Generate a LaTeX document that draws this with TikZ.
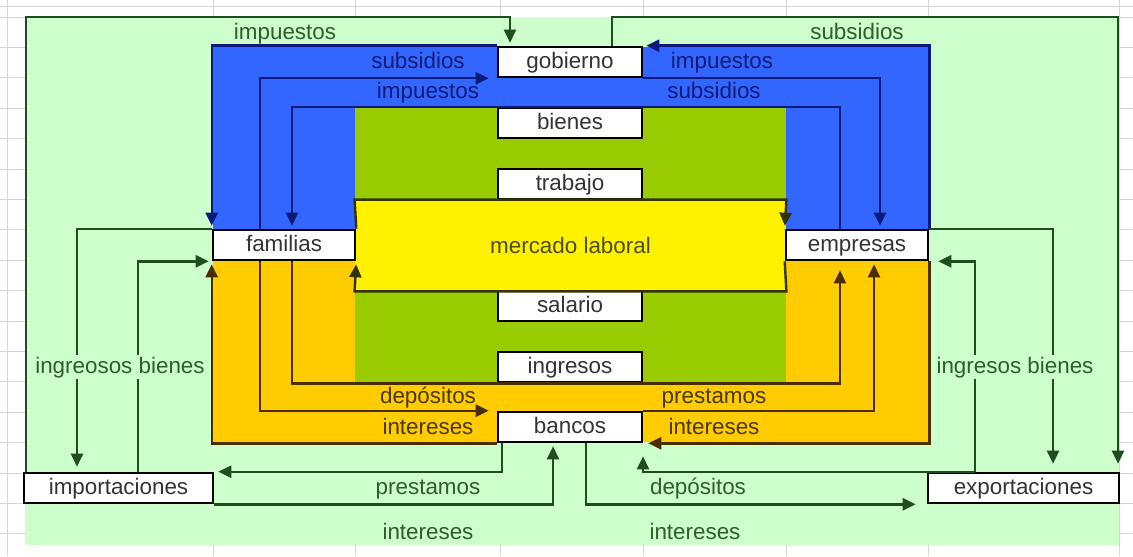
\documentclass[tikz,border=0pt]{standalone}
\usepackage{fontspec}
\setmainfont{Liberation Sans}
\usetikzlibrary{arrows.meta}
\definecolor{lgreen}{HTML}{CCFFCC}
\definecolor{xblue}{HTML}{3366FF}
\definecolor{xlime}{HTML}{99CC00}
\definecolor{xgold}{HTML}{FFCC00}
\definecolor{lineb}{HTML}{0C1A7A}
\definecolor{lineg}{HTML}{1F4D1F}
\definecolor{lineo}{HTML}{4A2E00}
\definecolor{liney}{HTML}{333300}
\definecolor{gtxt}{HTML}{2E5E2E}
\definecolor{btxt}{HTML}{101C78}
\definecolor{otxt}{HTML}{4A3800}
\definecolor{mtxt}{HTML}{4D4D00}
\definecolor{gridc}{HTML}{D6D6D6}
\tikzset{
  box/.style={draw=black,line width=1.3pt,fill=white,text=black!80,
              minimum width=72pt,minimum height=15pt,inner sep=0pt,
              text height=1.5ex,text depth=.25ex},
  lbl/.style={inner sep=1.5pt,text height=1.5ex,text depth=.25ex},
  glbl/.style={lbl,text=gtxt},
  blbl/.style={lbl,text=btxt},
  olbl/.style={lbl,text=otxt},
  arr/.style={line width=1.2pt,-{Triangle[length=6.5pt,width=6pt]},
              shorten >=1.5pt},
  barr/.style={arr,draw=lineb},
  garr/.style={arr,draw=lineg},
  oarr/.style={arr,draw=lineo},
  yarr/.style={arr,draw=liney},
}

\begin{document}
\begin{tikzpicture}[x=0.5pt,y=-0.5pt,
                    every node/.style={font=\fontsize{11.2}{13}\selectfont}]
\useasboundingbox (0,0) rectangle (1133,556);

%% ---------- sheet and coloured areas ----------
\fill[white] (0,0) rectangle (1133,556);
\foreach \gx in {7,213,355,500,643,786,928,1119}
  \draw[gridc] (\gx,0) -- (\gx,556);
\draw[gridc] (0,6) -- (1133,6);
\foreach \k in {0,...,18}
  \draw[gridc] (0,17+30.4*\k) -- (1133,17+30.4*\k);

\fill[lgreen] (25,17) rectangle (1119,545);
\fill[xblue] (213,47) rectangle (928,230);
\fill[xgold] (213,260) rectangle (928,442);
\fill[xlime] (355,108) rectangle (786,382);

%% ---------- boxes ----------
\node[fill=yellow,minimum width=215.5pt,minimum height=45.5pt,
      inner sep=0pt,text=mtxt] (mer) at (570.5,245.5) {mercado laboral};

\node[box] (gob) at (570,62)  {gobierno};
\node[box] (bie) at (570,123) {bienes};
\node[box] (tra) at (570,184) {trabajo};
\node[box,minimum width=71pt] (fam) at (284,245) {familias};
\node[box,minimum width=71pt] (emp) at (857,245) {empresas};
\node[box] (sal) at (570,306) {salario};
\node[box] (ing) at (570,367) {ingresos};
\node[box] (ban) at (570,427) {bancos};
\node[box,minimum width=94.5pt] (imp) at (118.5,488) {importaciones};
\node[box,minimum width=95.5pt] (exp) at (1023.5,488) {exportaciones};

%% ---------- gobierno (blue) ----------
\draw[barr] (gob.north west) -| (fam.north west);
\draw[barr,shorten >=4pt] (260,0 |- fam.north) |- (gob.south west);
\draw[barr] (emp.north east) |- (gob.north east);
\draw[barr] (gob.south east) -| (880,0 |- emp.north);
\draw[barr] (840,0 |- emp.north) |- (292,0 |- bie.north)
            -- (292,0 |- fam.north);

%% ---------- mercado laboral ----------
\draw[yarr] (fam.north east) -- (mer.north west) -- (mer.north east)
            -- (emp.north west);
\draw[yarr] (emp.south west) -- (mer.south east) -- (mer.south west)
            -- (fam.south east);

%% ---------- bancos (orange) ----------
\draw[oarr,shorten >=4.5pt] (292,0 |- fam.south) |- (840,0 |- ing.south)
            -- (840,0 |- emp.south);
\draw[oarr,shorten >=4pt] (260,0 |- fam.south) |- (ban.north west);
\draw[oarr] (ban.north east) -| (874,0 |- emp.south);
\draw[oarr] (ban.south west) -| (fam.south west);
\draw[oarr,shorten >=2.5pt] (emp.south east) |- (ban.south east);

%% ---------- outside flows (light green) ----------
\draw[garr] (26,0 |- imp.north) |- (510,17) -- (510,0 |- gob.north);
\draw[garr,shorten >=4pt] (612,0 |- gob.north) |- (1118,17)
            -- (1118,0 |- exp.north);
\draw[garr,shorten >=2.5pt] (fam.north west) -| (77,0 |- imp.north);
\draw[garr] (138,0 |- imp.north) |- (fam.south west);
\draw[garr,shorten >=4pt] (emp.north east) -| (1053,0 |- exp.north);
\draw[garr,shorten >=4.5pt] (975,0 |- exp.north) |- (emp.south east);
\draw[garr,shorten >=2pt] (502,0 |- ban.south) |- (imp.north east);
\draw[garr] (imp.south east) -| (553,0 |- ban.south);
\draw[garr,shorten >=5.5pt] (586,0 |- ban.south) |- (exp.south west);
\draw[garr,shorten >=6.5pt] (975,0 |- exp.north) -| (643,0 |- ban.south);

%% ---------- labels ----------
\node[glbl] (limp1) at (285,33)  {impuestos};
\node[glbl] (lsub1) at (857,33)  {subsidios};
\node[blbl] (lsub2) at (418,62)  {subsidios};
\node[blbl] (limp2) at (428,92)  {impuestos};
\node[blbl] (limp3) at (722,62)  {impuestos};
\node[blbl] (lsub3) at (714,92)  {subsidios};
\node[olbl] (ldep1) at (428,397) {depósitos};
\node[olbl] (lpre1) at (714,397) {prestamos};
\node[olbl] (lint1) at (428,428) {intereses};
\node[olbl] (lint2) at (714,428) {intereses};
\node[glbl] (lpre2) at (428,488) {prestamos};
\node[glbl] (ldep2) at (698,488) {depósitos};
\node[glbl] (lint3) at (428,533) {intereses};
\node[glbl] (lint4) at (695,533) {intereses};
\node[glbl,fill=lgreen] (lfam) at (120,367)  {ingreosos bienes};
\node[glbl,fill=lgreen] (lemp) at (1015,367) {ingresos bienes};
\end{tikzpicture}
\end{document}
